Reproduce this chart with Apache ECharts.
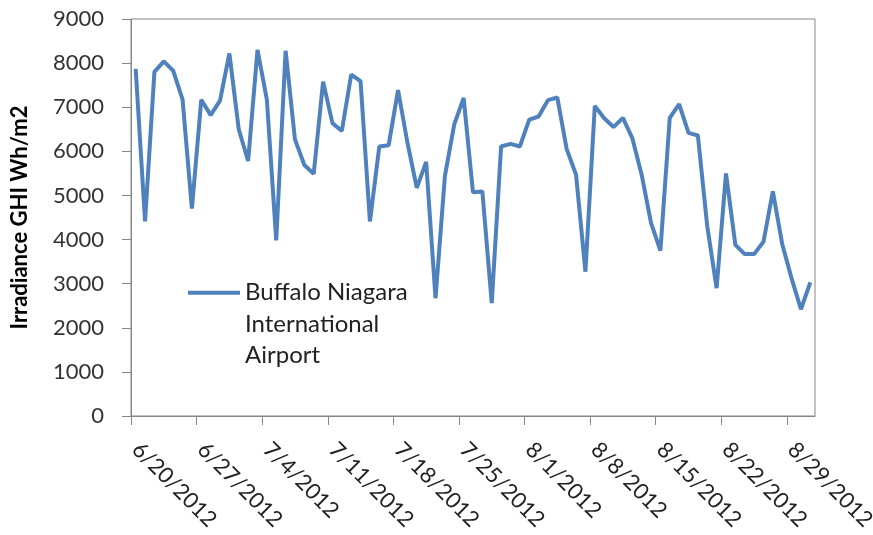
<!DOCTYPE html>
<html>
<head>
<meta charset="utf-8">
<script src="https://cdn.jsdelivr.net/npm/echarts@6/dist/echarts.min.js"></script>
<style>
  html, body { margin: 0; padding: 0; background: #fff; }
  #chart { width: 873px; height: 535px; }
</style>
</head>
<body>
<div id="chart"></div>
<script>
// 数据：每日一点，从 6/20/2012 起
const tickLabels = ['6/20/2012', '6/27/2012', '7/4/2012', '7/11/2012', '7/18/2012', '7/25/2012',
  '8/1/2012', '8/8/2012', '8/15/2012', '8/22/2012', '8/29/2012']
const daysPerTick = 7
const seriesName = 'Buffalo Niagara International Airport'
const irradiance = [
  7870, 4410, 7800, 8040, 7830, 7180, 4700, 7170, 6820, 7150,
  8220, 6500, 5780, 8300, 7170, 3980, 8280, 6270, 5690, 5490,
  7580, 6640, 6460, 7740, 7590, 4410, 6110, 6140, 7390, 6200,
  5170, 5760, 2670, 5440, 6610, 7210, 5070, 5090, 2560, 6110,
  6170, 6110, 6720, 6790, 7160, 7220, 6050, 5470, 3270, 7030,
  6750, 6550, 6760, 6300, 5470, 4380, 3750, 6760, 7070, 6420,
  6360, 4300, 2900, 5500, 3880, 3670, 3670, 3950, 5090, 3900,
  3120, 2420, 3030
]

const chart = echarts.init(document.getElementById('chart'))
const axisColor = '#868686'
const lineColor = '#4F81BD'
const font = 'Lato, "Open Sans", sans-serif'

const option = {
  animation: false,
  grid: {
    left: 131,
    right: 58,
    top: 19,
    bottom: 119,
    outerBoundsMode: 'none',
    show: true,
    borderColor: axisColor,
    borderWidth: 1
  },
  legend: {
    data: [seriesName],
    left: 183,
    top: 209,
    icon: 'rect',
    itemWidth: 52,
    itemHeight: 4,
    itemStyle: { color: lineColor },
    // 前面两行空行，让图标对齐第一行文字
    formatter: () => '\n\nBuffalo Niagara\nInternational\nAirport',
    textStyle: {
      fontFamily: font,
      fontSize: 24,
      color: '#222',
      lineHeight: 31.5
    }
  },
  xAxis: {
    type: 'value',
    min: 0,
    max: irradiance.length,
    splitLine: { show: false },
    axisLine: { lineStyle: { color: axisColor } },
    axisTick: {
      length: 9,
      lineStyle: { color: axisColor },
      customValues: tickLabels.map((_, i) => i * daysPerTick)
    },
    axisLabel: {
      rotate: -45,
      margin: 30,
      fontFamily: font,
      fontSize: 22,
      color: '#222',
      customValues: tickLabels.map((_, i) => i * daysPerTick + 0.5),
      formatter: (v) => tickLabels[Math.round((v - 0.5) / daysPerTick)]
    }
  },
  yAxis: {
    type: 'value',
    min: 0,
    max: 9000,
    interval: 1000,
    name: 'Irradiance GHI Wh/m2',
    nameLocation: 'middle',
    nameGap: 100,
    nameMoveOverlap: false,
    nameTextStyle: {
      fontFamily: font,
      fontSize: 22,
      fontWeight: 'bold',
      color: '#000'
    },
    splitLine: { show: false },
    axisLine: { show: true, lineStyle: { color: axisColor } },
    axisTick: { show: true, length: 9, lineStyle: { color: axisColor } },
    axisLabel: {
      margin: 27,
      fontFamily: font,
      fontSize: 22,
      color: '#333',
      formatter: (v) => String(v)
    }
  },
  series: [
    {
      name: seriesName,
      type: 'line',
      symbol: 'none',
      lineStyle: { width: 4, color: lineColor },
      itemStyle: { color: lineColor },
      data: irradiance.map((v, i) => [i + 0.5, v])
    }
  ]
}

chart.setOption(option)
</script>
</body>
</html>
